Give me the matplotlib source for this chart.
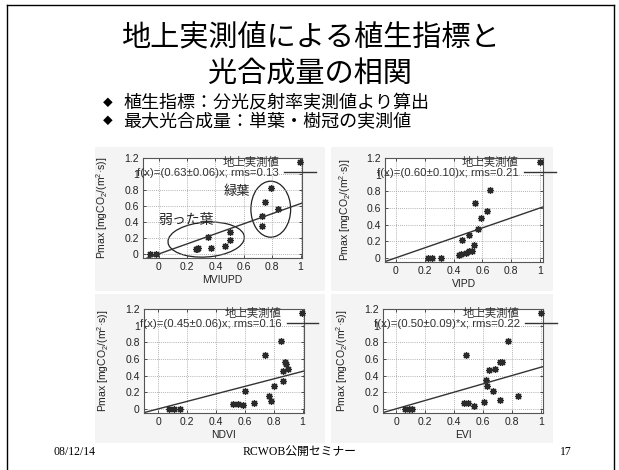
import matplotlib.pyplot as plt
from matplotlib.patches import Ellipse, Rectangle
from matplotlib.lines import Line2D

plt.rcParams['font.family'] = ['Liberation Sans', 'Noto Sans CJK JP']
plt.rcParams['mathtext.default'] = 'regular'

# --- data ---
mviupd_x = [-0.06, -0.02, 0.26, 0.27, 0.28, 0.35, 0.37, 0.465, 0.50, 0.50, 0.73, 0.73, 0.75, 0.79, 0.84]
mviupd_y = [0.0, 0.0, 0.06, 0.065, 0.07, 0.21, 0.075, 0.10, 0.17, 0.28, 0.35, 0.47, 0.65, 0.82, 0.56]

vipd_x = [0.225, 0.25, 0.31, 0.44, 0.455, 0.485, 0.51, 0.53, 0.54, 0.46, 0.51, 0.57, 0.59, 0.63, 0.55, 0.65]
vipd_y = [0.0, 0.0, 0.0, 0.04, 0.045, 0.06, 0.085, 0.08, 0.16, 0.21, 0.27, 0.35, 0.48, 0.56, 0.66, 0.82]

ndvi_x = [0.07, 0.11, 0.15, 0.52, 0.55, 0.59, 0.60, 0.66, 0.77, 0.78, 0.80, 0.74, 0.85, 0.865, 0.865, 0.875, 0.885, 0.90]
ndvi_y = [0.0, 0.0, 0.0, 0.06, 0.06, 0.05, 0.21, 0.07, 0.16, 0.10, 0.27, 0.65, 0.81, 0.34, 0.46, 0.56, 0.54, 0.48]

evi_x = [0.065, 0.09, 0.11, 0.47, 0.495, 0.54, 0.48, 0.61, 0.72, 0.84, 0.62, 0.63, 0.67, 0.645, 0.685, 0.715, 0.73, 0.77]
evi_y = [0.0, -0.005, -0.005, 0.065, 0.065, 0.04, 0.65, 0.08, 0.11, 0.16, 0.35, 0.27, 0.21, 0.47, 0.48, 0.56, 0.56, 0.82]

slopes = [0.63, 0.60, 0.45, 0.50]
fit_labels = ['f(x)=(0.63±0.06)x; rms=0.13',
              'f(x)=(0.60±0.10)x; rms=0.21',
              'f(x)=(0.45±0.06)x; rms=0.16',
              'f(x)=(0.50±0.09)*x; rms=0.22']
xlabels = ['MVIUPD', 'VIPD', 'NDVI', 'EVI']
xticks = [0, 0.2, 0.4, 0.6, 0.8, 1]
yticks = [0, 0.2, 0.4, 0.6, 0.8, 1, 1.2]
tick_labels_x = ['0', '0.2', '0.4', '0.6', '0.8', '1']
tick_labels_y = ['0', '0.2', '0.4', '0.6', '0.8', '1', '1.2']

W, H = 619, 470
fig = plt.figure(figsize=(6.19, 4.70), dpi=100)


def px_rect(left, top, right, bottom):
    return [left / W, 1 - bottom / H, (right - left) / W, (bottom - top) / H]


# slide frame
fig.add_artist(Line2D([7 / W, 7 / W], [0, 1 - 5 / H], color='k', lw=1.0))
fig.add_artist(Line2D([7 / W, 614 / W], [1 - 5 / H, 1 - 5 / H], color='k', lw=1.0))
fig.add_artist(Line2D([614 / W, 614 / W], [0, 1 - 5 / H], color='k', lw=1.0))

# grey picture backgrounds
for l, t, r, b in [(95, 147, 325, 291), (331, 147, 553, 291),
                   (95, 294, 325, 443), (331, 294, 553, 443)]:
    fig.add_artist(Rectangle((l / W, 1 - b / H), (r - l) / W, (b - t) / H,
                             transform=fig.transFigure, facecolor='#f4f4f4',
                             edgecolor='none', zorder=0))

# title and bullets
fig.text(310 / W, 1 - 38 / H, '地上実測値による植生指標と', ha='center', va='center',
         fontsize=21, family='Noto Sans CJK JP')
fig.text(310 / W, 1 - 75 / H, '光合成量の相関', ha='center', va='center',
         fontsize=21, family='Noto Sans CJK JP')
fig.text(103 / W, 1 - 103 / H, '◆', ha='left', va='center', fontsize=7, family='Noto Sans CJK JP')
fig.text(123 / W, 1 - 103 / H, '植生指標：分光反射率実測値より算出', ha='left', va='center',
         fontsize=13, family='Noto Sans CJK JP')
fig.text(103 / W, 1 - 121 / H, '◆', ha='left', va='center', fontsize=7, family='Noto Sans CJK JP')
fig.text(123 / W, 1 - 121 / H, '最大光合成量：単葉・樹冠の実測値', ha='left', va='center',
         fontsize=13, family='Noto Sans CJK JP')

# footer
fig.text(75 / W, 1 - 452 / H, '08/12/14', ha='center', va='center', fontsize=8.5,
         family=['Liberation Serif', 'Noto Sans CJK JP'])
fig.text(300 / W, 1 - 452 / H, 'RCWOB公開セミナー', ha='center', va='center', fontsize=8.5,
         family=['Liberation Serif', 'Noto Sans CJK JP'])
fig.text(566 / W, 1 - 452 / H, '17', ha='center', va='center', fontsize=8.5,
         family=['Liberation Serif', 'Noto Sans CJK JP'])

rects = [px_rect(143, 158, 302, 258), px_rect(385, 158, 543, 262),
         px_rect(144, 309, 304, 413), px_rect(383, 309, 543, 413)]
xlims = [(-0.11, 1.01), (-0.075, 1.02), (-0.10, 1.01), (-0.09, 1.015)]
data = [(mviupd_x, mviupd_y), (vipd_x, vipd_y), (ndvi_x, ndvi_y), (evi_x, evi_y)]

for i in range(4):
    ax = fig.add_axes(rects[i])
    ax.set_facecolor('white')
    x0, x1 = xlims[i]
    ax.set_xlim(x0, x1)
    ax.set_ylim(-0.05, 1.2)
    ax.set_xticks(xticks)
    ax.set_xticklabels(tick_labels_x)
    ax.set_yticks(yticks)
    ax.set_yticklabels(tick_labels_y)
    ax.tick_params(direction='in', length=2.5, width=0.6, labelsize=7.5, pad=3,
                   top=True, right=True, colors='#333333', labelcolor='#222222')
    ax.grid(True, linestyle=(0, (1, 1.5)), color='#999999', linewidth=0.6)
    for s in ax.spines.values():
        s.set_color('#555555')
        s.set_linewidth(0.8)

    xs, ys = data[i]
    pts, = ax.plot(xs, ys, linestyle='none', marker=(8, 2, 0), markersize=5,
                   markeredgewidth=0.9, color='#2a2a2a', label='地上実測値')
    fit, = ax.plot([x0, x1], [slopes[i] * x0, slopes[i] * x1], color='#333333',
                   linewidth=1.0, label=fit_labels[i])
    leg = ax.legend(handles=[pts, fit], loc='upper right', bbox_to_anchor=(1.11, 1.215),
                    bbox_transform=ax.transData, frameon=False, markerfirst=False,
                    fontsize=8.2, handlelength=2.8, handletextpad=0.45, labelspacing=0.0,
                    borderpad=0, borderaxespad=0)
    for t in leg.get_texts():
        t.set_color('#333333')

    ax.set_xlabel(xlabels[i], fontsize=7.5, labelpad=2, color='#222222')
    ax.set_ylabel('Pmax [mgCO$_2$/(m$^2$·s)]', fontsize=7.5, color='#222222')
    ax.yaxis.set_label_coords(-0.205, 0.5)

    if i == 0:
        ax.add_patch(Ellipse((0.335, 0.18), 0.545, 0.43, angle=15, fill=False,
                             edgecolor='#222222', linewidth=0.9))
        ax.add_patch(Ellipse((0.79, 0.56), 0.28, 0.70, angle=0, fill=False,
                             edgecolor='#222222', linewidth=0.9))
        ax.text(0.55, 0.78, '緑葉', ha='center', va='center', fontsize=9.5,
                family='Noto Sans CJK JP', color='#222222')
        ax.text(0.19, 0.42, '弱った葉', ha='center', va='center', fontsize=10,
                family='Noto Sans CJK JP', color='#222222')

fig.savefig('out.png', dpi=100)
